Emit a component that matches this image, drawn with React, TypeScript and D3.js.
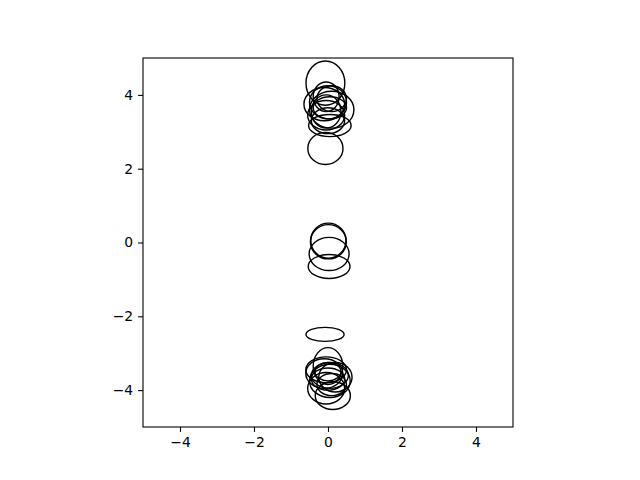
import { useEffect, useRef } from "react";
import * as d3 from "d3";

// ellipse centres and full widths / heights in data units
const centerX = [
  -0.07, -0.07, -0.05, -0.1, 0.1, 0.0, 0.05, -0.05, 0.05, 0.0, 0.1, -0.05,
  0.01, 0.01, 0.03, 0.03,
  -0.08, 0.0, -0.1, 0.05, 0.0, 0.05, 0.2, -0.05, 0.13, 0.0, 0.1, -0.05,
];
const centerY = [
  4.32, 2.55, 3.95, 3.75, 3.6, 3.8, 3.65, 3.45, 3.17, 3.3, 3.9, 3.55,
  0.05, 0.02, -0.31, -0.65,
  -2.49, -3.35, -3.55, -3.6, -3.7, -3.75, -3.65, -3.95, -4.15, -3.5, -3.85, -3.45,
];
const widths = [
  1.05, 0.95, 0.7, 1.1, 1.2, 1.0, 0.9, 1.0, 1.15, 0.9, 0.8, 0.8,
  0.95, 0.97, 1.08, 1.13,
  1.03, 0.8, 1.0, 1.0, 0.9, 1.1, 0.9, 1.0, 0.95, 0.7, 0.8, 1.1,
];
const heights = [
  1.2, 0.87, 0.8, 0.9, 1.0, 0.9, 0.6, 0.8, 0.6, 0.7, 0.7, 0.9,
  0.95, 0.93, 0.9, 0.65,
  0.38, 1.0, 0.8, 0.7, 0.6, 0.9, 0.8, 0.85, 0.75, 0.5, 0.6, 0.7,
];
const ticks = [-4, -2, 0, 2, 4];

export default function App() {
  const svgRef = useRef<SVGSVGElement | null>(null);

  useEffect(() => {
    if (!svgRef.current) return;
    const margin = { top: 58, right: 127, bottom: 53, left: 143 };
    const width = 640 - margin.left - margin.right;
    const height = 480 - margin.top - margin.bottom;

    d3.select(svgRef.current).selectAll("*").remove();

    const svg = d3
      .select(svgRef.current)
      .attr("width", 640)
      .attr("height", 480)
      .append("g")
      .attr("transform", `translate(${margin.left},${margin.top})`);

    const x = d3.scaleLinear().domain([-5, 5]).range([0, width]);
    const y = d3.scaleLinear().domain([-5, 5]).range([height, 0]);

    svg
      .selectAll("ellipse")
      .data(centerX.map((cx, i) => ({ cx, cy: centerY[i], w: widths[i], h: heights[i] })))
      .enter()
      .append("ellipse")
      .attr("cx", (d) => x(d.cx))
      .attr("cy", (d) => y(d.cy))
      .attr("rx", (d) => x(d.w / 2) - x(0))
      .attr("ry", (d) => y(0) - y(d.h / 2))
      .attr("fill", "none")
      .attr("stroke", "#000")
      .attr("stroke-width", 1.4);

    const fmt = (v: number) => (v < 0 ? "\u2212" + Math.abs(v) : String(v));

    const xAxis = svg
      .append("g")
      .attr("transform", `translate(0,${height})`)
      .call(d3.axisBottom(x).tickValues(ticks).tickFormat((d) => fmt(+d)).tickSize(4.9).tickPadding(4.9));
    const yAxis = svg
      .append("g")
      .call(d3.axisLeft(y).tickValues(ticks).tickFormat((d) => fmt(+d)).tickSize(4.9).tickPadding(4.9));

    [xAxis, yAxis].forEach((g) => {
      g.select(".domain").remove();
      g.selectAll("line").attr("stroke", "#000").attr("stroke-width", 1.1);
      g.selectAll("text")
        .attr("fill", "#000")
        .style("font-family", "'DejaVu Sans', sans-serif")
        .style("font-size", "13.9px");
    });

    svg
      .append("rect")
      .attr("width", width)
      .attr("height", height)
      .attr("fill", "none")
      .attr("stroke", "#000")
      .attr("stroke-width", 1.1);
  }, []);

  return (
    <svg
      ref={svgRef}
      style={{ position: "absolute", left: 0, top: 0, background: "#fff" }}
    />
  );
}
